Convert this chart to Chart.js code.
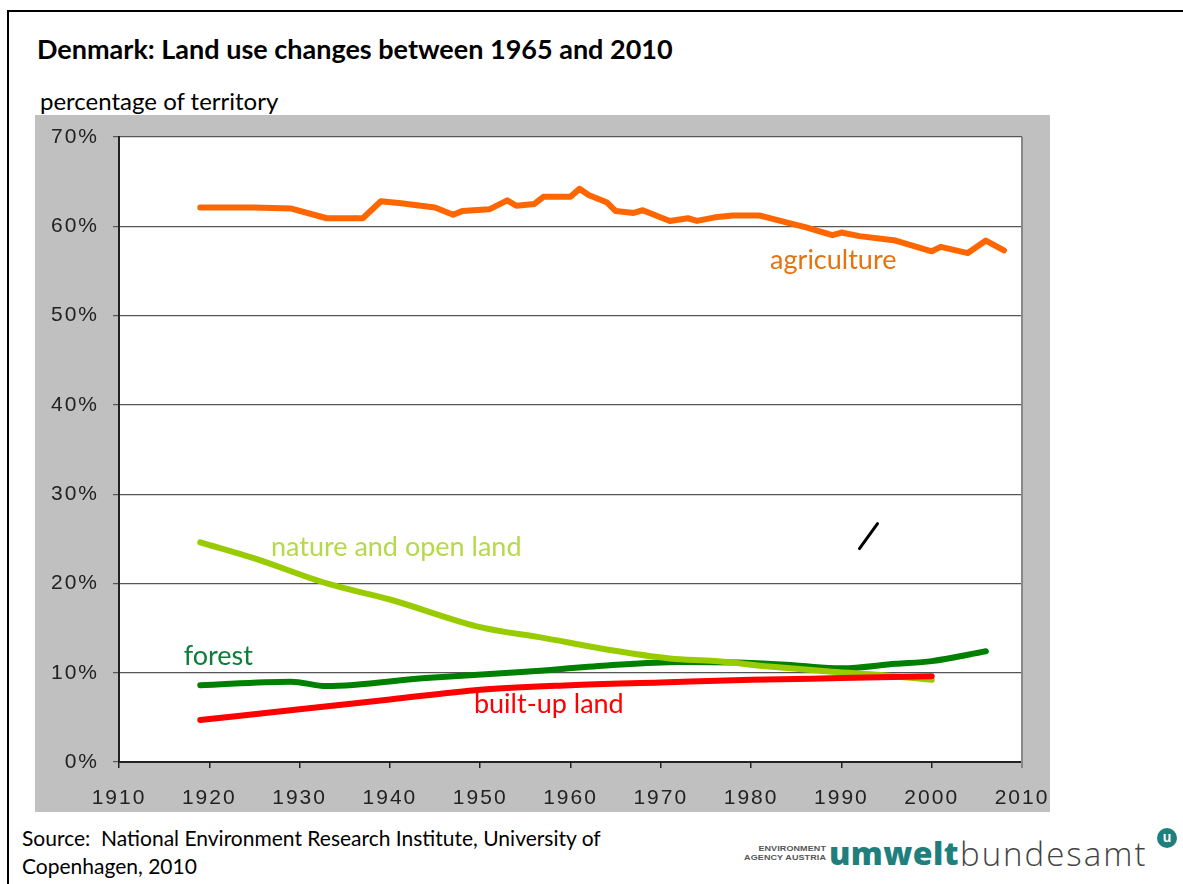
<!DOCTYPE html>
<html>
<head>
<meta charset="utf-8">
<title>Denmark land use</title>
<script src="https://cdn.jsdelivr.net/npm/chart.js@4.4.0/dist/chart.umd.min.js"></script>
<style>
  body { margin: 0; background: #fff; width: 1183px; height: 884px; overflow: hidden; position: relative; font-family: Lato, sans-serif; }
  #frame { position: absolute; left: 7px; top: 10px; width: 1200px; height: 900px; border-left: 2px solid #000; border-top: 2px solid #000; }
  #title { position: absolute; left: 37px; top: 32px; font-weight: bold; font-size: 27px; color: #000; }
  #ylab { position: absolute; left: 40px; top: 86px; font-size: 24px; color: #000; }
  #box { position: absolute; left: 35px; top: 115px; width: 1015px; height: 697px; background: #c0c0c0; }
  #source { position: absolute; left: 22px; top: 824px; font-size: 21px; line-height: 28px; color: #000; }
  #logo { position: absolute; left: 733px; top: 830px; height: 50px; width: 450px; }
  #logo .small { position: absolute; left: 0; top: 13px; font-family: "Liberation Sans", sans-serif; font-weight: bold; font-size: 9px; line-height: 10px; color: #555; text-align: right; width: 93px; letter-spacing: 0.1px; transform: scaleY(0.9); }
  #logo .umw { position: absolute; left: 96px; top: 1px; font-family: "Open Sans", sans-serif; font-weight: 800; font-size: 32px; color: #1f7f7c; letter-spacing: 0.4px; }
  #logo .bund { position: absolute; left: 227px; top: 1px; font-family: "Open Sans", sans-serif; font-weight: 300; font-size: 33px; color: #444; letter-spacing: 2px; }
  #logo .dot { position: absolute; left: 424px; top: -2px; width: 20px; height: 20px; border-radius: 50%; background: #1f7f7c; color: #fff; font-family: "Liberation Sans", sans-serif; font-weight: bold; font-size: 14px; line-height: 19px; text-align: center; }
</style>
</head>
<body>
<div id="frame"></div>
<div id="title">Denmark: Land use changes between 1965 and 2010</div>
<div id="ylab">percentage of territory</div>
<div id="box"><canvas id="myChart" width="1015" height="697"></canvas></div>
<div id="source">Source:&nbsp; National Environment Research Institute, University of<br>Copenhagen, 2010</div>
<div id="logo">
  <div class="small">ENVIRONMENT<br>AGENCY AUSTRIA</div>
  <div class="umw">umwelt</div>
  <div class="bund">bundesamt</div>
  <div class="dot">u</div>
</div>

<script>
// values (percent of territory)
var agriYears = [1919, 1925, 1929, 1933, 1937, 1939, 1941, 1945, 1947, 1948, 1951, 1953, 1954, 1956, 1957, 1960, 1961, 1962, 1964, 1965, 1967, 1968, 1971, 1973, 1974, 1976, 1978, 1981, 1984, 1986, 1989, 1990, 1992, 1996, 2000, 2001, 2004, 2006, 2008];
var agriValues = [62.1, 62.1, 62.0, 60.9, 60.9, 62.8, 62.6, 62.1, 61.3, 61.7, 61.9, 62.9, 62.3, 62.5, 63.3, 63.3, 64.2, 63.5, 62.7, 61.7, 61.5, 61.8, 60.6, 60.9, 60.6, 61.0, 61.2, 61.2, 60.4, 59.9, 59.0, 59.3, 58.9, 58.4, 57.2, 57.7, 57.0, 58.4, 57.3];

var natureYears = [1919, 1925, 1933, 1940, 1950, 1957, 1964, 1971, 1976, 1982, 1989, 1995, 2000];
var natureValues = [24.6, 22.8, 20.0, 18.2, 15.1, 13.9, 12.6, 11.6, 11.3, 10.7, 10.1, 9.7, 9.2];

var forestYears = [1919, 1929, 1933, 1944, 1955, 1964, 1972, 1980, 1985, 1990, 1996, 2000, 2006];
var forestValues = [8.6, 9.0, 8.5, 9.4, 10.1, 10.8, 11.2, 11.1, 10.8, 10.5, 11.0, 11.3, 12.4];

var builtYears = [1919, 1930, 1940, 1950, 1960, 1970, 1980, 1990, 2000];
var builtValues = [4.7, 5.9, 7.0, 8.1, 8.6, 8.9, 9.2, 9.4, 9.6];

// stray stroke in the original figure
var slashYears = [1992, 1994];
var slashValues = [23.9, 26.7];

var yTicks = [0, 10, 20, 30, 40, 50, 60, 70];
var xTicks = [1910, 1920, 1930, 1940, 1950, 1960, 1970, 1980, 1990, 2000, 2010];

function pts(xs, ys) {
    var out = [];
    for (var i = 0; i < xs.length; i++) out.push({ x: xs[i], y: ys[i] });
    return out;
}

var notes = [
    { text: "agriculture", x: 1989.1, y: 56.2, color: "#e8720c" },
    { text: "nature and open land", x: 1940.7, y: 24.1, color: "#b5d94a" },
    { text: "forest", x: 1921.0, y: 11.8, color: "#0b7f3a" },
    { text: "built-up land", x: 1957.6, y: 6.5, color: "#ff0000" }
];

var plotBg = {
    id: 'plotBg',
    beforeDraw: function(chart) {
        var a = chart.chartArea, c = chart.ctx;
        c.save();
        c.fillStyle = '#fff';
        c.fillRect(a.left, a.top, a.right - a.left, a.bottom - a.top);
        c.restore();
        c.letterSpacing = '2px';
    },
    beforeDatasetsDraw: function(chart) {
        var a = chart.chartArea, c = chart.ctx;
        chart.ctx.letterSpacing = '0px';
        c.save();
        c.strokeStyle = '#888';
        c.lineWidth = 2;
        c.beginPath();
        c.moveTo(a.right, a.top);
        c.lineTo(a.right, a.bottom + 6);
        c.stroke();
        c.restore();
    },
    afterDraw: function(chart) {
        var c = chart.ctx, xs = chart.scales.x, ys = chart.scales.y;
        c.save();
        c.letterSpacing = '0px';
        c.font = '27px Lato';
        c.textAlign = 'center';
        c.textBaseline = 'middle';
        notes.forEach(function(n) {
            c.fillStyle = n.color;
            c.fillText(n.text, xs.getPixelForValue(n.x), ys.getPixelForValue(n.y));
        });
        c.restore();
    }
};

var ctx = document.getElementById('myChart').getContext('2d');
var myChart = new Chart(ctx, {
    type: 'line',
    data: {
        datasets: [{
            data: pts(slashYears, slashValues),
            borderColor: '#000',
            borderWidth: 3,
            tension: 0
        }, {
            data: pts(agriYears, agriValues),
            borderColor: '#ff6600',
            borderWidth: 6,
            tension: 0
        }, {
            data: pts(builtYears, builtValues),
            borderColor: '#ff0000',
            borderWidth: 6,
            cubicInterpolationMode: 'monotone'
        }, {
            data: pts(natureYears, natureValues),
            borderColor: '#99cc00',
            borderWidth: 6,
            cubicInterpolationMode: 'monotone'
        }, {
            data: pts(forestYears, forestValues),
            borderColor: '#008000',
            borderWidth: 6,
            cubicInterpolationMode: 'monotone'
        }]
    },
    options: {
        responsive: false,
        animation: false,
        events: [],
        layout: { padding: { top: 22, right: 28, left: 0, bottom: 0 } },
        elements: { point: { radius: 0 }, line: { borderCapStyle: 'round', borderJoinStyle: 'round' } },
        plugins: { legend: { display: false }, tooltip: { enabled: false } },
        scales: {
            x: {
                type: 'linear',
                min: 1910,
                max: 2010,
                afterFit: function(s) { s.height = 50; s.paddingLeft = 0; s.paddingRight = 0; },
                afterBuildTicks: function(s) { s.ticks = xTicks.map(function(v) { return { value: v }; }); },
                grid: { drawOnChartArea: false, drawTicks: true, tickLength: 6, color: '#222', lineWidth: 1.5 },
                border: { color: '#222', width: 2 },
                ticks: {
                    padding: 18,
                    color: '#222',
                    font: { family: 'Liberation Sans', size: 21 },
                    maxRotation: 0,
                    callback: function(v) { return String(v); }
                }
            },
            y: {
                min: 0,
                max: 70,
                afterFit: function(s) { s.width = 84; s.paddingTop = 0; s.paddingBottom = 0; },
                afterBuildTicks: function(s) { s.ticks = yTicks.map(function(v) { return { value: v }; }); },
                grid: { color: '#555', lineWidth: 1.2, tickLength: 6 },
                border: { color: '#222', width: 2 },
                ticks: {
                    padding: 14,
                    color: '#222',
                    font: { family: 'Liberation Sans', size: 21 },
                    callback: function(v) { return v + '%'; }
                }
            }
        }
    },
    plugins: [plotBg]
});
</script>
</body>
</html>
